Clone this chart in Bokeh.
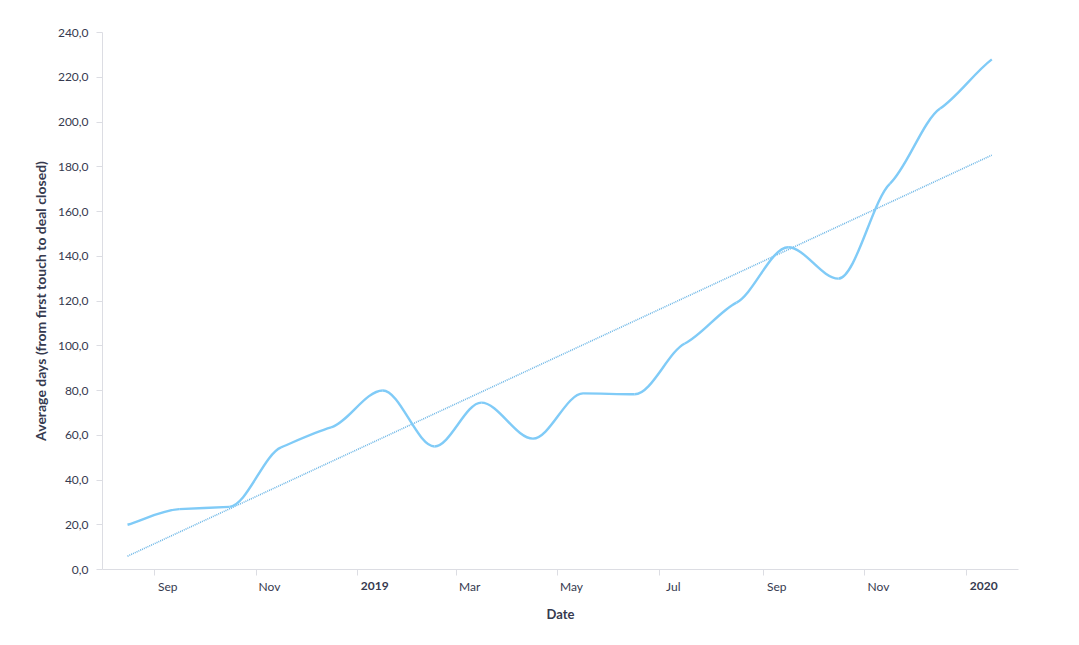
import numpy as np
import pandas as pd
from bokeh.plotting import figure
from bokeh.models import Range1d, FixedTicker, CustomJSTickFormatter, LinearAxis
from bokeh.embed import file_html
from bokeh.resources import INLINE

# monthly averages (points sit at the middle of each month)
months = ["2018-08", "2018-09", "2018-10", "2018-11", "2018-12", "2019-01",
          "2019-02", "2019-03", "2019-04", "2019-05", "2019-06", "2019-07",
          "2019-08", "2019-09", "2019-10", "2019-11", "2019-12", "2020-01"]
avg_days = [20.0, 27.0, 28.0, 54.6, 63.5, 80.0, 55.0, 74.6, 58.5, 78.7,
            78.3, 101.0, 119.3, 144.0, 130.0, 172.5, 206.0, 228.0]

tick_dates = ["2018-09-01", "2018-11-01", "2019-01-01", "2019-03-01", "2019-05-01",
              "2019-07-01", "2019-09-01", "2019-11-01", "2020-01-01"]
tick_labels = ["Sep", "Nov", "2019", "Mar", "May", "Jul", "Sep", "Nov", "2020"]
y_ticks = [0, 20, 40, 60, 80, 100, 120, 140, 160, 180, 200, 220, 240]

FONT = "Lato"
TXT = "#363a4f"
AXIS = "#dcdde3"
LINE = "#80cbf7"

W, H = 1056, 640
BL, BR, BT, BB = 102, 38, 32, 71

dates = pd.to_datetime([m + "-16" for m in months])
ms = np.asarray(dates.astype("int64") // 10**6, dtype=float)
days = (ms - ms[0]) / 86400000.0
y = np.array(avg_days)

# smoothed line: monotone tangents, softened so each month shows a slight knee
h = np.diff(days)
s = np.diff(y) / h
t = np.zeros(len(y))
for i in range(1, len(y) - 1):
    pp = (s[i - 1] * h[i] + s[i] * h[i - 1]) / (h[i - 1] + h[i])
    t[i] = 0.55 * (np.sign(s[i - 1]) + np.sign(s[i])) * min(abs(s[i - 1]), abs(s[i]), 0.5 * abs(pp))
t[0] = s[0]
t[-1] = 0.8 * s[-1]
dx = h / 3.0
day_ms = 86400000.0
cx0 = ms[:-1] + dx * day_ms
cy0 = y[:-1] + dx * t[:-1]
cx1 = ms[1:] - dx * day_ms
cy1 = y[1:] - dx * t[1:]

# linear trend
k, b = np.polyfit(days, y, 1)
trend_x = [ms[0], ms[-1]]
trend_y = [b, k * days[-1] + b]

x0 = pd.Timestamp("2018-08-01").value / 1e6
x1 = pd.Timestamp("2020-02-01").value / 1e6
px_ms = (x1 - x0) / (W - BL - BR)

p = figure(width=W, height=H, output_backend="svg", toolbar_location=None,
           x_range=Range1d(x0, x1), y_range=Range1d(0, 240),
           min_border_left=BL, min_border_right=BR, min_border_top=BT, min_border_bottom=BB)
p.background_fill_color = "white"
p.border_fill_color = "white"
p.outline_line_color = None
p.xgrid.grid_line_color = None
p.ygrid.grid_line_color = None

# labels sit to the right of their tick marks
p.extra_x_ranges = {
    "mon": Range1d(x0 - 13.5 * px_ms, x1 - 13.5 * px_ms),
    "yr": Range1d(x0 - 17 * px_ms, x1 - 17 * px_ms),
}

p.line(trend_x, trend_y, line_color="#6cb6e6", line_width=1.6, line_dash="1 1")
p.bezier(x0=ms[:-1], y0=y[:-1], x1=ms[1:], y1=y[1:], cx0=cx0, cy0=cy0, cx1=cx1, cy1=cy1,
         line_color=LINE, line_width=2.4)

tick_ms = [pd.Timestamp(d).value / 1e6 for d in tick_dates]
mon_ticks = [tm for tm, lab in zip(tick_ms, tick_labels) if not lab.isdigit()]
yr_ticks = [tm for tm, lab in zip(tick_ms, tick_labels) if lab.isdigit()]
labels_by_tick = {tm: lab for tm, lab in zip(tick_ms, tick_labels)}

# tick marks only
xa = p.xaxis[0]
xa.ticker = FixedTicker(ticks=tick_ms)
xa.formatter = CustomJSTickFormatter(code="return ''")
xa.major_label_standoff = 0
xa.axis_line_color = AXIS
xa.major_tick_line_color = AXIS
xa.major_tick_out = 6
xa.major_tick_in = 0
xa.minor_tick_line_color = None

# month names
xb = LinearAxis(x_range_name="mon", ticker=FixedTicker(ticks=mon_ticks),
                major_label_overrides={tm: labels_by_tick[tm] for tm in mon_ticks})
# bold years
xc = LinearAxis(x_range_name="yr", ticker=FixedTicker(ticks=yr_ticks),
                major_label_overrides={tm: labels_by_tick[tm] for tm in yr_ticks})
for ax in (xb, xc):
    ax.axis_line_color = None
    ax.major_tick_line_color = None
    ax.minor_tick_line_color = None
    ax.major_tick_out = 0
    ax.major_tick_in = 0
    ax.major_label_text_font = FONT
    ax.major_label_text_font_size = "12px"
    ax.major_label_text_color = TXT
xb.major_label_standoff = 3
xc.major_label_standoff = -15
xc.major_label_text_font_style = "bold"
xc.axis_label = "Date"
xc.axis_label_text_font = FONT
xc.axis_label_text_font_style = "bold"
xc.axis_label_text_font_size = "13px"
xc.axis_label_text_color = TXT
xc.axis_label_standoff = 13
p.add_layout(xb, "below")
p.add_layout(xc, "below")

ya = p.yaxis[0]
ya.ticker = FixedTicker(ticks=y_ticks)
ya.formatter = CustomJSTickFormatter(code="return tick.toFixed(1).replace('.', ',')")
ya.major_label_text_font = FONT
ya.major_label_text_font_size = "12px"
ya.major_label_text_color = TXT
ya.major_label_standoff = 8
ya.axis_line_color = AXIS
ya.major_tick_line_color = AXIS
ya.major_tick_out = 6
ya.major_tick_in = 0
ya.minor_tick_line_color = None
ya.axis_label = "Average days (from first touch to deal closed)"
ya.axis_label_text_font = FONT
ya.axis_label_text_font_style = "bold"
ya.axis_label_text_font_size = "14px"
ya.axis_label_text_color = TXT
ya.axis_label_standoff = 6

open("out.html", "w").write(file_html(p, INLINE))
